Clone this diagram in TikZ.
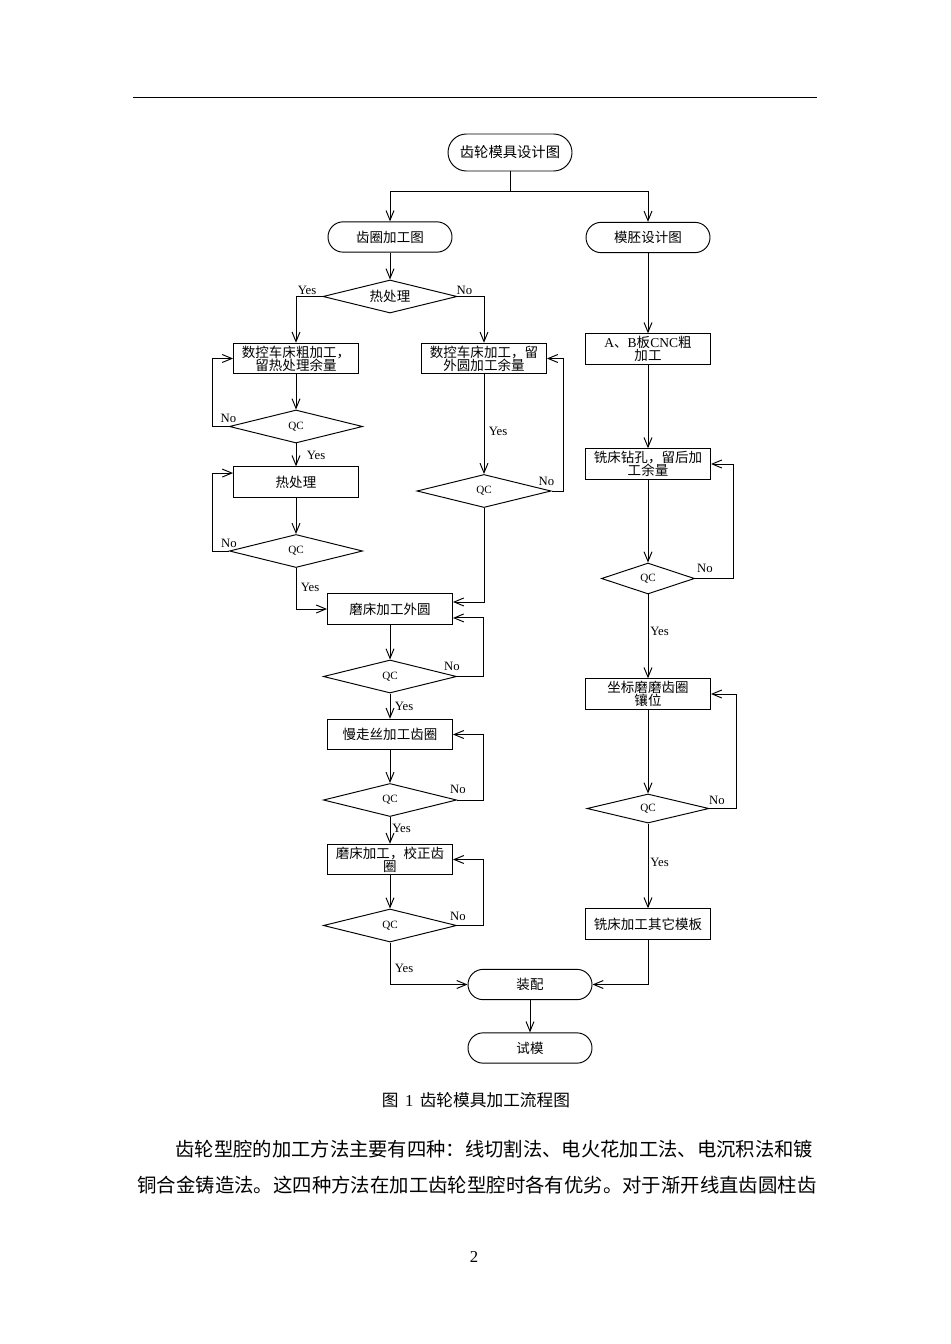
\documentclass[tikz,border=0pt]{standalone}
\usepackage{fontspec}
\setmainfont{Liberation Serif}
\newfontfamily\zhfont{Noto Sans CJK SC}
\newcommand\latn[1]{{\rmfamily #1}}
\usetikzlibrary{shapes.geometric,arrows.meta}

\tikzset{
  term/.style={draw,rectangle,rounded corners=9.5bp,minimum width=77.7bp,minimum height=19bp,
    inner sep=0pt,font=\zhfont\fontsize{8.5}{8.5}\selectfont},
  proc/.style={draw,rectangle,minimum width=78.3bp,minimum height=19.1bp,inner sep=0pt,
    align=center,font=\zhfont\fontsize{8.5}{8.2}\selectfont},
  dec/.style={draw,diamond,aspect=4,minimum width=83.5bp,minimum height=20.7bp,inner sep=0pt,
    font=\fontsize{7}{7}\selectfont},
  lbl/.style={inner sep=0pt,font=\fontsize{8}{8}\selectfont},
  arr/.style={-{Straight Barb[length=6bp,width=5bp]}},
}

\begin{document}
\begin{tikzpicture}[x=0.6266bp,y=-0.6266bp,line width=0.6bp]
  \useasboundingbox (0,0) rectangle (950,1344);
  \draw[line width=0.8bp] (133,97.5) -- (817,97.5); % page header rule

  % start and the two branches
  \node[term,minimum height=23.2bp,rounded corners=11.6bp,font=\zhfont\fontsize{9}{9}\selectfont]
    (design) at (510,152.5) {齿轮模具设计图};
  \node[term] (ring) at (390,237) {齿圈加工图};
  \node[term] (blank) at (648,237.5) {模胚设计图};

  % ring branch
  \node[dec,minimum width=84bp,font=\zhfont\fontsize{8.5}{8.5}\selectfont] (heat) at (390,296.5) {热处理};
  \node[proc] (roughL) at (296,358.5) {数控车床粗加工，\\留热处理余量};
  \node[proc] (roughR) at (484,358.5) {数控车床加工，留\\外圆加工余量};
  \node[dec] (qc1) at (296,426.5) {QC};
  \node[proc] (heatbox) at (296,482) {热处理};
  \node[dec] (qc2) at (296,551) {QC};
  \node[dec,minimum width=84bp] (qcR) at (484,491) {QC};
  \node[proc] (grind) at (390,609) {磨床加工外圆};
  \node[dec] (qc3) at (390,676.5) {QC};
  \node[proc] (wire) at (390,734.5) {慢走丝加工齿圈};
  \node[dec] (qc4) at (390,800) {QC};
  \node[proc] (correct) at (390,859.5) {磨床加工，校正齿\\圈};
  \node[dec] (qc5) at (390,925.5) {QC};

  % blank branch
  \node[proc] (cnc) at (648,349) {\latn{A}、\latn{B}板\latn{CNC}粗\\加工};
  \node[proc] (drill) at (648,464) {铣床钻孔，留后加\\工余量};
  \node[dec,minimum width=58.3bp,minimum height=19.4bp] (qc6) at (648,578.5) {QC};
  \node[proc] (coord) at (648,694) {坐标磨磨齿圈\\镶位};
  \node[dec,minimum width=76.4bp,minimum height=18.2bp] (qc7) at (648,808.5) {QC};
  \node[proc] (mill) at (648,924) {铣床加工其它模板};

  % end
  \node[term] (assemble) at (530,984.5) {装配};
  \node[term] (trial) at (530,1048) {试模};

  % connectors
  \coordinate (split) at (510,191);
  \draw (design) -- (split);
  \draw[arr] (split) -| (ring);
  \draw[arr] (split) -| (blank);
  \draw[arr] (heat.west) -| (roughL);
  \draw[arr] (heat.east) -| (roughR);

  \foreach \a/\b in {ring/heat,roughL/qc1,qc1/heatbox,heatbox/qc2,roughR/qcR,grind/qc3,
    qc3/wire,wire/qc4,qc4/correct,correct/qc5,assemble/trial,blank/cnc,cnc/drill,
    drill/qc6,qc6/coord,coord/qc7,qc7/mill} % straight steps
  \draw[arr] (\a.south) -- (\b.north);

  \draw[arr] (qc1.west) -- ++(-16,0) |- (roughL.west);
  \draw[arr] (qc2.west) -- ++(-16,0) |- ([yshift=5.6bp]heatbox.west);
  \draw[arr] (qc2.south) |- (grind.west);
  \draw[arr] (qcR.east) -- ++(12,0) |- (roughR.east);
  \draw[arr] (qcR.south) |- ([yshift=4.4bp]grind.east);
  \draw[arr] (qc3.east) -- ++(26.5,0) |- ([yshift=-5.6bp]grind.east);
  \foreach \q/\b in {qc4/wire,qc5/correct} % loops back on the right
  \draw[arr] (\q.east) -- ++(26.5,0) |- (\b.east);
  \draw[arr] (qc6.east) -- ++(38,0) |- (drill.east);
  \draw[arr] (qc7.east) -- ++(27,0) |- (coord.east);
  \draw[arr] (qc5.south) |- (assemble.west);
  \draw[arr] (mill.south) |- (assemble.east);

  % Yes / No labels
  \foreach \t/\x/\y [count=\i] in {Yes/307/290,No/464.5/290,No/228.5/418,Yes/498/431,
    Yes/316/455,No/229/543,No/546.5/481,Yes/310/587,No/452/666,Yes/404/706,
    No/458/789,Yes/401.5/828,No/458/916,Yes/404/968,No/705/568,Yes/659.5/631,
    No/717/800,Yes/659.5/862}
  \node[lbl] (lab\i) at (\x,\y) {\t};

  % caption and text
  \node[inner sep=0pt,font=\fontsize{10.5}{10.5}\selectfont] (caption) at (476,1100)
    {{\zhfont 图}\hspace{4bp}1\hspace{4bp}{\zhfont 齿轮模具加工流程图}};
  \node[anchor=west,inner sep=0pt,font=\zhfont\fontsize{12.15}{12}\selectfont] (para1) at (175,1149)
    {齿轮型腔的加工方法主要有四种：线切割法、电火花加工法、电沉积法和镀};
  \node[anchor=west,inner sep=0pt,font=\zhfont\fontsize{12.2}{12}\selectfont] (para2) at (137,1185)
    {铜合金铸造法。这四种方法在加工齿轮型腔时各有优劣。对于渐开线直齿圆柱齿};
  \node[inner sep=0pt,font=\fontsize{10.5}{10.5}\selectfont] (pagenum) at (474,1257) {2};
\end{tikzpicture}
\end{document}
